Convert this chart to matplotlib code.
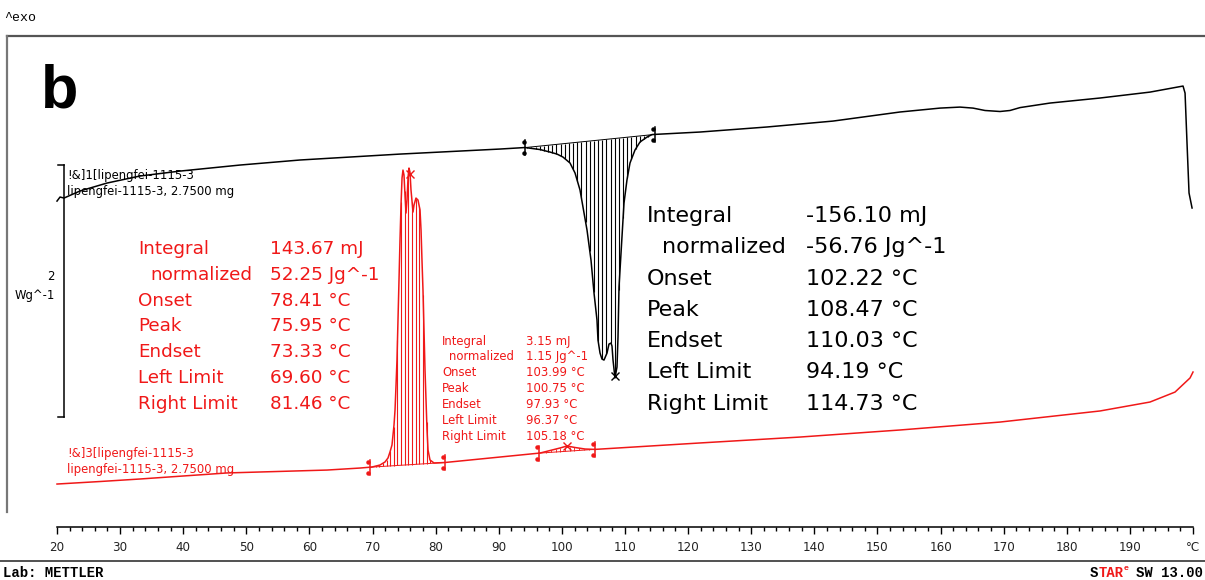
import numpy as np
import matplotlib
matplotlib.use("Agg")
import matplotlib.pyplot as plt
from matplotlib.lines import Line2D

# ---------------- data ----------------
# Sample 1 (black): heat flow in W/g versus temperature in °C
black_T = [20.00, 20.48, 21.11, 23.64, 27.92, 33.15, 39.49, 49.00, 58.50, 74.35,
           90.19, 94.15, 96.53, 98.12, 99.23, 100.18, 101.29, 102.08, 102.87, 103.34,
           103.98, 104.61, 105.09, 105.56, 105.72, 106.04, 106.35, 106.67, 107.15, 107.46,
           107.78, 107.94, 108.10, 108.41, 108.73, 108.89, 109.05, 109.52, 109.84, 110.31,
           110.79, 111.58, 112.38, 113.49, 114.28, 121.88, 132.50, 142.96, 153.57, 159.91,
           163.08, 165.14, 167.04, 169.42, 171.00, 172.59, 177.34, 185.27, 193.19, 198.42,
           198.74, 199.05, 199.37, 199.85]
black_HF = [2.214, 2.246, 2.238, 2.294, 2.357, 2.413, 2.452, 2.500, 2.540, 2.587,
            2.627, 2.639, 2.623, 2.603, 2.587, 2.563, 2.516, 2.437, 2.302, 2.167,
            1.984, 1.746, 1.484, 1.270, 1.111, 1.008, 0.960, 0.952, 1.008, 1.079,
            1.087, 1.063, 0.952, 0.810, 0.897, 1.135, 1.532, 1.929, 2.198, 2.381,
            2.516, 2.619, 2.683, 2.722, 2.742, 2.762, 2.802, 2.849, 2.921, 2.952,
            2.960, 2.952, 2.933, 2.925, 2.933, 2.956, 2.992, 3.032, 3.079, 3.127,
            3.071, 2.675, 2.278, 2.159]

# Sample 3 (red)
red_T = [20.00, 26.81, 33.15, 46.94, 62.78, 68.01, 69.91, 71.18, 71.97, 72.45,
         72.76, 73.08, 73.40, 73.56, 73.72, 73.87, 74.03, 74.19, 74.35, 74.51,
         74.67, 74.82, 74.98, 75.14, 75.30, 75.46, 75.62, 75.77, 75.93, 76.09,
         76.41, 76.57, 76.88, 77.20, 77.52, 77.68, 77.83, 77.99, 78.15, 78.31,
         78.47, 78.63, 78.79, 79.10, 79.74, 81.48, 96.53, 98.12, 99.70, 100.81,
         102.08, 103.66, 105.25, 121.88, 137.73, 153.57, 169.42, 185.27, 193.19, 197.15,
         199.53, 200.00]
red_HF = [-0.032, -0.012, 0.008, 0.056, 0.079, 0.095, 0.103, 0.119, 0.143, 0.175,
          0.222, 0.278, 0.437, 0.556, 0.754, 0.952, 1.270, 1.587, 1.905, 2.183,
          2.397, 2.460, 2.421, 2.262, 2.119, 2.222, 2.397, 2.476, 2.444, 2.302,
          2.127, 2.183, 2.238, 2.222, 2.143, 1.984, 1.746, 1.508, 1.190, 0.873,
          0.635, 0.397, 0.238, 0.159, 0.135, 0.139, 0.214, 0.234, 0.254, 0.270,
          0.258, 0.246, 0.243, 0.294, 0.341, 0.397, 0.460, 0.548, 0.619, 0.698,
          0.810, 0.857]

# Peak evaluations: (left limit, right limit, peak temperature)
black_peak = (94.19, 114.73, 108.47)
red_peak_main = (69.60, 81.46, 75.95)
red_peak_small = (96.37, 105.18, 100.75)

black_labels = ["Integral", "normalized", "Onset", "Peak", "Endset", "Left Limit", "Right Limit"]
black_values = ["-156.10 mJ", "-56.76 Jg^-1", "102.22 °C", "108.47 °C", "110.03 °C",
                "94.19 °C", "114.73 °C"]
red_main_values = ["143.67 mJ", "52.25 Jg^-1", "78.41 °C", "75.95 °C", "73.33 °C",
                   "69.60 °C", "81.46 °C"]
red_small_values = ["3.15 mJ", "1.15 Jg^-1", "103.99 °C", "100.75 °C", "97.93 °C",
                    "96.37 °C", "105.18 °C"]

x_ticks = list(range(20, 201, 10))
x_ticklabels = [str(t) for t in range(20, 200, 10)] + ["°C"]

# ---------------- figure ----------------
W, H = 1205, 580
RED = "#f01818"
fig = plt.figure(figsize=(W / 100, H / 100), dpi=100)
plt.rcParams["font.family"] = ["DejaVu Sans"]


def fx(x):
    return x / W


def fy(y):
    return 1 - y / H


ax = fig.add_axes([0, (H - 527) / H, 1, 527 / H])
ax.patch.set_visible(False)
ax.set_xlim(10.968, 201.90)
ax.set_ylim(-0.373, 3.810)
for s in ("top", "left", "right"):
    ax.spines[s].set_visible(False)
ax.spines["bottom"].set_bounds(20, 200)
ax.spines["bottom"].set_linewidth(1.1)
ax.set_yticks([])
ax.set_xticks(x_ticks)
ax.set_xticklabels(x_ticklabels)
ax.set_xticks(np.arange(20, 201, 2), minor=True)
ax.tick_params(axis="x", which="major", length=5, width=1.0, pad=5, labelsize=8.6,
               labelcolor="#222222")
ax.tick_params(axis="x", which="minor", length=3, width=1.0)

# curves
ax.plot(black_T, black_HF, color="black", lw=1.1, zorder=3)
ax.plot(red_T, red_HF, color=RED, lw=1.1, zorder=3)


def hatch_peak(T, HF, peak, step, color, lw=0.8):
    lo, hi, pk = peak
    T = np.asarray(T)
    HF = np.asarray(HF)
    b0, b1 = np.interp(lo, T, HF), np.interp(hi, T, HF)
    xs = np.arange(lo + step * 0.5, hi, step)
    ys = np.interp(xs, T, HF)
    base = b0 + (b1 - b0) * (xs - lo) / (hi - lo)
    ax.vlines(xs, base, ys, color=color, lw=lw, zorder=2)
    ax.plot([lo, hi], [b0, b1], color=color, lw=0.7, zorder=2)
    # limit markers
    for t, b in ((lo, b0), (hi, b1)):
        ax.plot([t, t], [b - 0.06, b + 0.06], color=color, lw=1.1, zorder=4)
        ax.plot([t - 0.25, t - 0.25], [b + 0.045, b - 0.045], ls="none", marker="o",
                ms=2.2, color=color, zorder=4)
    # peak marker
    ax.plot([pk], [np.interp(pk, T, HF)], marker="x", ms=6, mew=1.0, color=color,
            ls="none", zorder=5)


hatch_peak(black_T, black_HF, black_peak, 0.66, "black")
hatch_peak(red_T, red_HF, red_peak_main, 0.58, RED)
hatch_peak(red_T, red_HF, red_peak_small, 0.75, RED, lw=0.6)

# scale bar: 2 W/g
sx = 21.11
ax.plot([sx, sx], [0.5, 2.5], color="black", lw=1.1)
ax.plot([20.16, sx], [2.5, 2.5], color="black", lw=1.1)
ax.plot([20.16, sx], [0.5, 0.5], color="black", lw=1.1)
fig.text(fx(55), fy(277), "2", ha="right", va="center", fontsize=8.4)
fig.text(fx(55), fy(295), "Wg^-1", ha="right", va="center", fontsize=8.4)

# frame and footer rules
fig.add_artist(Line2D([fx(7), 1], [fy(36), fy(36)], color="#555555", lw=1.6))
fig.add_artist(Line2D([fx(7), fx(7)], [fy(36), fy(512)], color="#777777", lw=1.6))
fig.add_artist(Line2D([0, 1], [fy(561), fy(561)], color="#222222", lw=1.1))

mono = ["Liberation Mono", "DejaVu Sans Mono"]
fig.text(fx(4), fy(18), "^exo", family=mono, fontsize=9.5, va="center")
fig.text(fx(3), fy(573), "Lab: METTLER", family=mono, fontsize=10, fontweight="bold",
         va="center")
fig.text(fx(1090), fy(573), "S", family=mono, fontsize=10, fontweight="bold", va="center")
fig.text(fx(1099), fy(573), "TAR", family=mono, fontsize=10, fontweight="bold",
         va="center", color=RED)
fig.text(fx(1124), fy(569), "e", family=mono, fontsize=6, fontweight="bold",
         va="center", color=RED)
fig.text(fx(1203), fy(573), "SW 13.00", family=mono, fontsize=10, fontweight="bold",
         va="center", ha="right")

fig.text(fx(41), fy(107), "b", family=["Liberation Sans", "DejaVu Sans"], fontsize=44,
         fontweight="bold", va="baseline")

# sample captions
fig.text(fx(67), fy(175), "!&]1[lipengfei-1115-3", fontsize=8.4, va="center")
fig.text(fx(67), fy(192), "lipengfei-1115-3, 2.7500 mg", fontsize=8.4, va="center")
fig.text(fx(67), fy(453), "!&]3[lipengfei-1115-3", fontsize=8.4, va="center", color=RED)
fig.text(fx(67), fy(469), "lipengfei-1115-3, 2.7500 mg", fontsize=8.4, va="center",
         color=RED)


def result_block(x_lab, x_ind, x_val, y0, dy, values, size, color):
    for i, (lab, val) in enumerate(zip(black_labels, values)):
        y = y0 + i * dy
        xl = x_ind if lab == "normalized" else x_lab
        fig.text(fx(xl), fy(y), lab, fontsize=size, va="center", color=color)
        fig.text(fx(x_val), fy(y), val, fontsize=size, va="center", color=color)


result_block(138, 150, 270, 249, 25.8, red_main_values, 13.2, RED)
result_block(442, 449, 526, 341, 15.9, red_small_values, 8.4, RED)
result_block(647, 662, 806, 216, 31.3, black_values, 16.0, "black")

fig.savefig("out.png", dpi=100)
